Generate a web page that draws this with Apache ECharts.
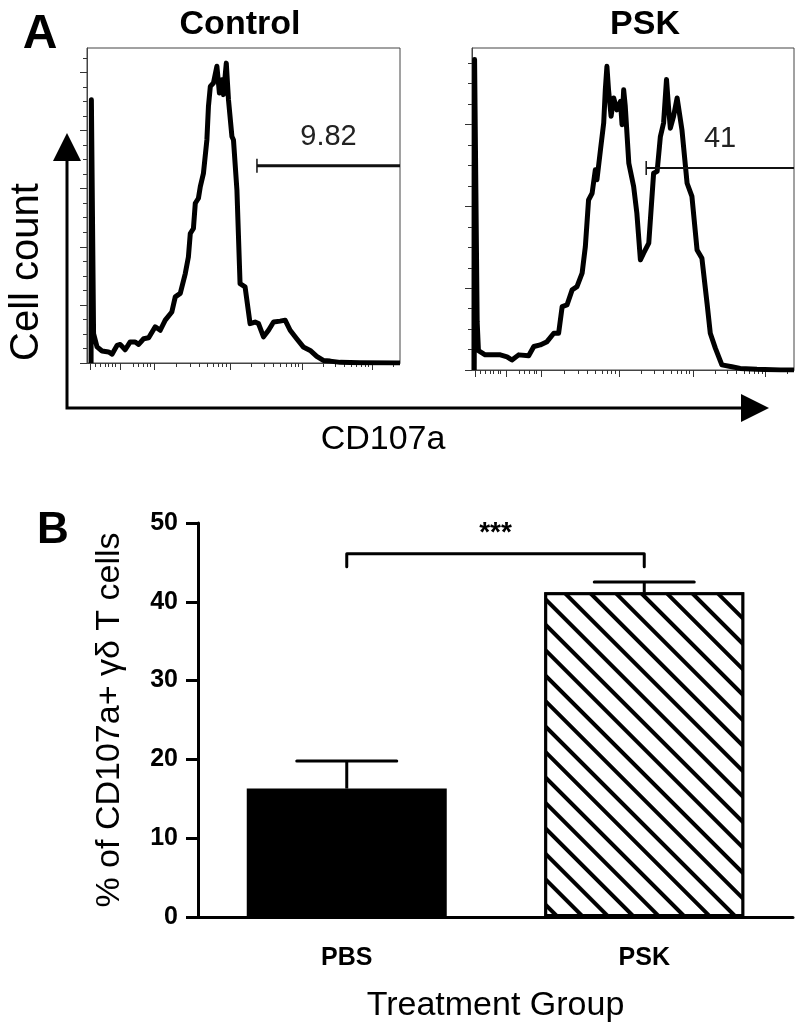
<!DOCTYPE html>
<html><head><meta charset="utf-8">
<script src="https://cdn.jsdelivr.net/npm/echarts@6/dist/echarts.min.js"></script>
<style>html,body{margin:0;padding:0;background:#fff}#c{width:796px;height:1026px}</style>
</head><body><div id="c"></div>
<script>
// ---------- Panel A: histograms (x: CD107a display units 0-100, y: relative cell count 0-100) ----------
const controlHist = [[1.3,0],[1.4,83.6],[2.1,9.3],[3.2,5.1],[4.8,3.8],[6.9,3.5],[8.0,2.8],[9.6,5.6],[10.6,5.9],[12.2,4.2],[13.8,6.7],[15.4,6.7],[16.5,5.9],[18.1,7.7],[19.7,8.0],[21.8,11.5],[23.4,10.4],[25.0,13.6],[27.1,16.2],[28.2,21.0],[29.8,22.1],[31.4,28.4],[32.4,33.7],[33.0,41.1],[34.0,42.7],[34.6,50.7],[35.6,52.3],[36.2,56.0],[37.2,60.2],[38.3,70.8],[38.8,81.4],[39.4,87.8],[40.4,88.9],[41.5,94.2],[42.3,85.7],[43.1,89.9],[43.6,85.2],[44.5,95.2],[45.2,83.6],[46.3,71.9],[46.8,70.8],[47.9,54.9],[48.9,25.2],[50.5,24.2],[52.1,12.5],[53.7,13.0],[54.8,12.5],[56.4,8.3],[58.0,10.4],[59.6,13.0],[61.7,13.3],[63.3,13.6],[64.9,10.4],[67.0,7.7],[69.1,5.1],[71.3,4.0],[73.4,2.1],[75.5,0.8],[77.7,0.6],[80.9,0.2],[87.2,0.1],[100,0]];
const pskHist = [[0.7,0],[0.8,96.4],[1.2,55.9],[1.6,15.0],[2.0,6.0],[2.6,5.7],[4.1,4.7],[8.8,4.7],[10.9,4.1],[12.4,3.1],[14.5,4.7],[17.6,4.4],[19.2,7.3],[21.2,7.8],[23.3,8.8],[25.4,11.4],[26.9,11.4],[28.0,19.7],[29.5,20.2],[31.1,24.9],[32.6,25.9],[34.2,30.1],[35.2,38.3],[36.2,52.8],[37.3,54.9],[38.3,62.2],[38.8,59.1],[39.9,68.4],[40.9,76.7],[41.4,87.0],[41.9,94.3],[42.4,87.0],[43.2,78.8],[44.0,84.5],[45.0,80.8],[46.1,83.4],[46.6,76.2],[47.1,87.0],[47.6,81.9],[48.7,64.2],[50.2,57.0],[51.2,48.7],[52.3,34.2],[53.3,36.3],[54.9,39.4],[56.4,61.1],[57.5,61.7],[58.5,72.5],[59.5,76.7],[60.4,90.2],[61.1,80.8],[61.6,75.1],[62.6,78.8],[63.7,84.5],[65.2,74.6],[66.8,58.0],[68.3,53.9],[69.9,37.3],[71.4,34.7],[73.0,20.7],[74.0,11.4],[75.6,6.7],[77.6,1.6],[80.7,1.0],[83.3,0.5],[88.5,0.2],[95.8,0],[100,0]];
// gates: [start, end, level, percentage label]
const controlGate = [54.3, 100, 62.6, '9.82'];
const pskGate = [54.1, 100, 62.7, '41'];
// histogram axis tick positions (biexponential display scale)
const histXMajor = [1.0, 10.5, 21.4, 45.7, 68.7, 91.1];
const histXMinor = [2.6,4.2,5.8,6.7,8.0,8.9,14.7,16.3,17.9,19.2,20.1,28.5,33.0,35.9,38.3,40.3,41.9,43.3,44.5,52.6,56.7,59.5,61.8,63.6,65.1,66.5,67.6,75.4,79.4,82.2,84.4,86.1,87.6,88.9,90.0,97.8];
const controlYMajor = [0,18.45,36.9,55.35,73.8,92.25];
const controlYMinor = [4.61,9.22,13.84,23.06,27.67,32.29,41.51,46.12,50.74,59.96,64.57,69.19,78.41,83.02,87.64,96.86];
const pskYMajor = [0,25.4,50.8,76.2];
const pskYMinor = [6.35,12.7,19.05,31.75,38.1,44.45,57.15,63.5,69.85,82.55,88.9,95.25];

// ---------- Panel B: bar chart ----------
const groups = ['PBS', 'PSK'];
const means = [16.3, 41.2];
const sems = [3.5, 1.3];
const barYTicks = {min: 0, max: 50, interval: 10};
const significance = [[0, 1, 46.1, '***']];

const FONT = '"Liberation Sans", Arial, Helvetica, sans-serif';
const chart = echarts.init(document.getElementById('c'), null, {renderer: 'canvas'});

function histX(grid, ticks, len, showLine) {
  return {type: 'value', gridIndex: grid, min: 0, max: 100, position: 'bottom',
    axisLine: {show: showLine, lineStyle: {color: '#444', width: 1}},
    axisTick: {show: true, inside: false, length: len, customValues: ticks, lineStyle: {color: '#333', width: 1}},
    axisLabel: {show: false}, splitLine: {show: false}};
}
function histY(grid, ticks, len, showLine) {
  return {type: 'value', gridIndex: grid, min: 0, max: 100, position: 'left',
    axisLine: {show: showLine, lineStyle: {color: '#444', width: 1}},
    axisTick: {show: true, inside: false, length: len, customValues: ticks, lineStyle: {color: '#333', width: 1}},
    axisLabel: {show: false}, splitLine: {show: false}};
}
function gateSeries(xi, yi, gate, lw) {
  return {type: 'custom', xAxisIndex: xi, yAxisIndex: yi, z: 5, clip: false,
    data: [gate],
    renderItem: function (params, api) {
      const a = api.coord([api.value(0), api.value(2)]);
      const b = api.coord([api.value(1), api.value(2)]);
      const lbl = gate[3];
      return {type: 'group', children: [
        {type: 'line', shape: {x1: a[0], y1: a[1], x2: b[0], y2: b[1]}, style: {stroke: '#111', lineWidth: lw}},
        {type: 'line', shape: {x1: a[0], y1: a[1] - 7, x2: a[0], y2: a[1] + 7}, style: {stroke: '#111', lineWidth: 1.5}},
        {type: 'text', x: (a[0] + b[0]) / 2, y: a[1] - 29, style: {text: lbl, font: '29px ' + FONT, fill: '#222', align: 'center', verticalAlign: 'middle'}}
      ]};
    }};
}

const option = {
  animation: false,
  backgroundColor: '#fff',
  grid: [
    {left: 87, top: 48, width: 313, height: 315, show: true, borderColor: '#444', borderWidth: 1},
    {left: 472, top: 48, width: 322, height: 322, show: true, borderColor: '#444', borderWidth: 1},
    {left: 198, top: 523, width: 595, height: 394}
  ],
  xAxis: [
    histX(0, histXMajor, 7, true), histX(0, histXMinor, 4, false),
    histX(1, histXMajor, 7, true), histX(1, histXMinor, 4, false),
    {type: 'category', gridIndex: 2, data: groups,
      axisLine: {lineStyle: {color: '#000', width: 3}},
      axisTick: {alignWithLabel: true, length: 11, lineStyle: {color: '#000', width: 3}},
      axisLabel: {fontFamily: FONT, fontWeight: 'bold', fontSize: 25, color: '#000', margin: 29},
      name: 'Treatment Group', nameLocation: 'middle', nameGap: 72,
      nameTextStyle: {fontFamily: FONT, fontSize: 34, color: '#000'}}
  ],
  yAxis: [
    histY(0, controlYMajor, 7, true), histY(0, controlYMinor, 4, false),
    histY(1, pskYMajor, 7, true), histY(1, pskYMinor, 4, false),
    {type: 'value', gridIndex: 2, min: barYTicks.min, max: barYTicks.max, interval: barYTicks.interval,
      axisLine: {show: true, lineStyle: {color: '#000', width: 3}},
      axisTick: {show: true, length: 12, lineStyle: {color: '#000', width: 3}},
      axisLabel: {fontFamily: FONT, fontWeight: 'bold', fontSize: 25, color: '#000', margin: 20},
      splitLine: {show: false},
      name: '% of CD107a+ \u03b3\u03b4 T cells', nameLocation: 'middle', nameRotate: 90, nameGap: 71,
      nameTextStyle: {fontFamily: FONT, fontSize: 34, color: '#000'}}
  ],
  series: [
    {type: 'line', xAxisIndex: 0, yAxisIndex: 0, data: controlHist, showSymbol: false, symbol: 'none',
      lineStyle: {color: '#000', width: 5, join: 'round'}, z: 3},
    gateSeries(0, 0, controlGate, 3),
    {type: 'line', xAxisIndex: 2, yAxisIndex: 2, data: pskHist, showSymbol: false, symbol: 'none',
      lineStyle: {color: '#000', width: 5, join: 'round'}, z: 3},
    gateSeries(2, 2, pskGate, 2),
    {type: 'bar', xAxisIndex: 4, yAxisIndex: 4, barWidth: 200, z: 2,
      data: [
        {value: means[0], itemStyle: {color: '#000'}},
        {value: means[1], itemStyle: {color: '#fff', borderColor: '#000', borderWidth: 3,
          decal: {symbol: 'rect', symbolSize: 1, color: '#000', backgroundColor: '#fff',
            dashArrayX: [1, 0], dashArrayY: [4, 14], rotation: Math.PI / 4}}}
      ]},
    {type: 'custom', xAxisIndex: 4, yAxisIndex: 4, z: 4,
      data: means.map((m, i) => [i, m, sems[i]]),
      renderItem: function (params, api) {
        const base = api.coord([api.value(0), api.value(1)]);
        const top = api.coord([api.value(0), api.value(1) + api.value(2)]);
        return {type: 'group', children: [
          {type: 'line', shape: {x1: base[0], y1: base[1], x2: top[0], y2: top[1]}, style: {stroke: '#000', lineWidth: 3}},
          {type: 'line', shape: {x1: top[0] - 50, y1: top[1], x2: top[0] + 50, y2: top[1]}, style: {stroke: '#000', lineWidth: 3, lineCap: 'round'}}
        ]};
      }},
    {type: 'custom', xAxisIndex: 4, yAxisIndex: 4, z: 4, clip: false,
      data: significance,
      renderItem: function (params, api) {
        const a = api.coord([api.value(0), api.value(2)]);
        const b = api.coord([api.value(1), api.value(2)]);
        return {type: 'group', children: [
          {type: 'polyline', shape: {points: [[a[0], a[1] + 13], [a[0], a[1]], [b[0], b[1]], [b[0], b[1] + 13]]},
            style: {stroke: '#000', lineWidth: 3, fill: null, lineJoin: 'round', lineCap: 'round'}},
          {type: 'text', x: (a[0] + b[0]) / 2, y: a[1] - 20, style: {text: significance[params.dataIndex][3], font: 'bold 28px ' + FONT, fill: '#000', align: 'center', verticalAlign: 'middle'}}
        ]};
      }}
  ],
  graphic: [
    {type: 'text', x: 40, y: 35, style: {text: 'A', font: 'bold 48px ' + FONT, fill: '#000', align: 'center', verticalAlign: 'middle'}},
    {type: 'text', x: 240, y: 25, style: {text: 'Control', font: 'bold 34px ' + FONT, fill: '#000', align: 'center', verticalAlign: 'middle'}},
    {type: 'text', x: 645, y: 25, style: {text: 'PSK', font: 'bold 34px ' + FONT, fill: '#000', align: 'center', verticalAlign: 'middle'}},
    {type: 'text', x: 53, y: 531, style: {text: 'B', font: 'bold 44px ' + FONT, fill: '#000', align: 'center', verticalAlign: 'middle'}},
    {type: 'text', x: 27, y: 272, rotation: Math.PI / 2, style: {text: 'Cell count', font: '40px ' + FONT, fill: '#000', align: 'center', verticalAlign: 'middle'}},
    {type: 'text', x: 383, y: 440, style: {text: 'CD107a', font: '34px ' + FONT, fill: '#000', align: 'center', verticalAlign: 'middle'}},
    {type: 'polyline', shape: {points: [[67, 158], [67, 408], [744, 408]]}, style: {stroke: '#000', lineWidth: 3, fill: null}},
    {type: 'polygon', shape: {points: [[67, 133], [53, 161], [81, 161]]}, style: {fill: '#000'}},
    {type: 'polygon', shape: {points: [[769, 408], [741, 394], [741, 422]]}, style: {fill: '#000'}}
  ]
};
chart.setOption(option);
</script></body></html>
